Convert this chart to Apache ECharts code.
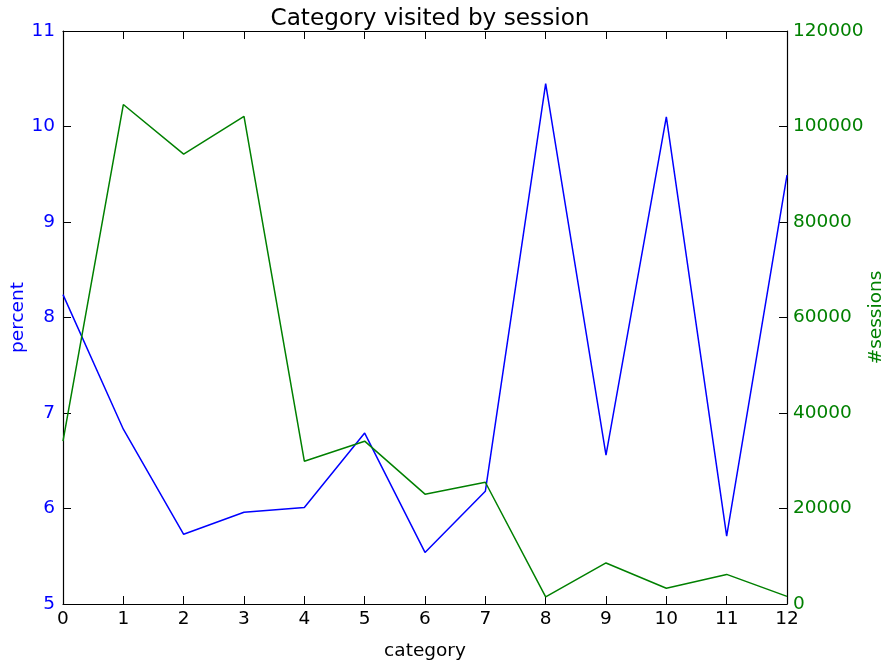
<!DOCTYPE html>
<html>
<head>
<meta charset="utf-8">
<script src="https://cdn.jsdelivr.net/npm/echarts@6/dist/echarts.min.js"></script>
<style>
  html, body { margin: 0; padding: 0; background: #fff; }
  #chart { width: 892px; height: 665px; }
</style>
</head>
<body>
<div id="chart"></div>
<script>
// Category index on the x axis
const categories = [0, 1, 2, 3, 4, 5, 6, 7, 8, 9, 10, 11, 12];
// Share of visits per category (left axis, %)
const percentValues = [8.24, 6.83, 5.73, 5.96, 6.01, 6.79, 5.54, 6.18, 10.45, 6.56, 10.10, 5.71, 9.49];
// Number of sessions per category (right axis)
const sessionValues = [34100, 104600, 94200, 102100, 29900, 34100, 23000, 25500, 1500, 8600, 3300, 6200, 1600];

const FONT = 'DejaVu Sans';
const TICK_SIZE = 18.5;
const BLUE = '#0000ff';
const GREEN = '#008000';
const AXIS = '#000000';

const chart = echarts.init(document.getElementById('chart'), null, { renderer: 'canvas' });

const pairs = (vals) => categories.map((c, i) => [c, vals[i]]);

chart.setOption({
  animation: false,
  backgroundColor: '#ffffff',
  title: {
    text: 'Category visited by session',
    left: 425,
    textAlign: 'center',
    top: 2,
    textStyle: { fontFamily: FONT, fontSize: 23.2, fontWeight: 'normal', color: '#000' }
  },
  grid: { left: 63, right: 105, top: 31, bottom: 61, containLabel: false, outerBoundsMode: 'none' },
  xAxis: [
    {
      type: 'value', min: 0, max: 12, interval: 1, position: 'bottom',
      name: 'category', nameLocation: 'middle', nameGap: 38, nameMoveOverlap: false,
      nameTextStyle: { fontFamily: FONT, fontSize: TICK_SIZE, color: '#000' },
      axisLine: { show: true, onZero: false, lineStyle: { color: AXIS, width: 1.2 } },
      axisTick: { show: true, inside: true, length: 8, lineStyle: { color: AXIS } },
      axisLabel: { fontFamily: FONT, fontSize: TICK_SIZE, color: '#000', margin: 6 },
      splitLine: { show: false }
    },
    {
      type: 'value', min: 0, max: 12, interval: 1, position: 'top',
      axisLine: { show: true, onZero: false, lineStyle: { color: AXIS, width: 1.2 } },
      axisTick: { show: true, inside: true, length: 8, lineStyle: { color: AXIS } },
      axisLabel: { show: false },
      splitLine: { show: false }
    }
  ],
  yAxis: [
    {
      type: 'value', min: 5, max: 11, interval: 1, position: 'left',
      name: 'percent', nameLocation: 'middle', nameGap: 35, nameMoveOverlap: false,
      nameTextStyle: { fontFamily: FONT, fontSize: TICK_SIZE, color: BLUE },
      axisLine: { show: true, onZero: false, lineStyle: { color: AXIS, width: 1.2 } },
      axisTick: { show: true, inside: true, length: 8, lineStyle: { color: AXIS } },
      axisLabel: { fontFamily: FONT, fontSize: TICK_SIZE, color: BLUE, margin: 8 },
      splitLine: { show: false }
    },
    {
      type: 'value', min: 0, max: 120000, interval: 20000, position: 'right',
      name: '#sessions', nameLocation: 'middle', nameGap: 80, nameMoveOverlap: false,
      nameTextStyle: { fontFamily: FONT, fontSize: TICK_SIZE, color: GREEN },
      axisLine: { show: true, onZero: false, lineStyle: { color: AXIS, width: 1.2 } },
      axisTick: { show: true, inside: true, length: 8, lineStyle: { color: AXIS } },
      axisLabel: { fontFamily: FONT, fontSize: TICK_SIZE, color: GREEN, margin: 6, formatter: (v) => String(v) },
      splitLine: { show: false }
    }
  ],
  series: [
    {
      name: 'percent', type: 'line', xAxisIndex: 0, yAxisIndex: 0,
      data: pairs(percentValues),
      showSymbol: false, symbol: 'none',
      lineStyle: { color: BLUE, width: 1.5 },
      itemStyle: { color: BLUE }
    },
    {
      name: '#sessions', type: 'line', xAxisIndex: 0, yAxisIndex: 1,
      data: pairs(sessionValues),
      showSymbol: false, symbol: 'none',
      lineStyle: { color: GREEN, width: 1.5 },
      itemStyle: { color: GREEN }
    }
  ]
});
</script>
</body>
</html>
